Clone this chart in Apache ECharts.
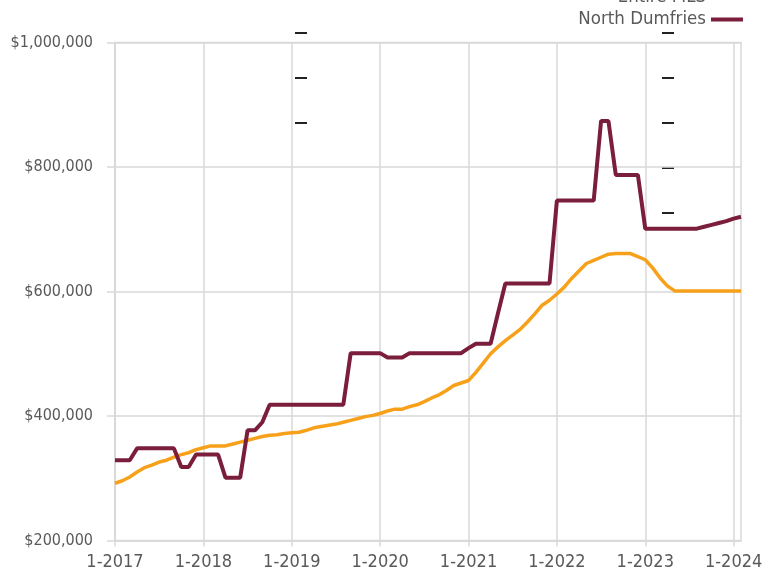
<!DOCTYPE html>
<html>
<head>
<meta charset="utf-8">
<script src="https://cdn.jsdelivr.net/npm/echarts@6/dist/echarts.min.js"></script>
<style>
html,body{margin:0;padding:0;background:#fff;}
#chart{width:766px;height:578px;}
</style>
</head>
<body>
<div id="chart"></div>
<script>
// Monthly categories (Jan 2017 - Feb 2024)
const months = [
  '1-2017','2-2017','3-2017','4-2017','5-2017','6-2017','7-2017','8-2017','9-2017','10-2017','11-2017','12-2017',
  '1-2018','2-2018','3-2018','4-2018','5-2018','6-2018','7-2018','8-2018','9-2018','10-2018','11-2018','12-2018',
  '1-2019','2-2019','3-2019','4-2019','5-2019','6-2019','7-2019','8-2019','9-2019','10-2019','11-2019','12-2019',
  '1-2020','2-2020','3-2020','4-2020','5-2020','6-2020','7-2020','8-2020','9-2020','10-2020','11-2020','12-2020',
  '1-2021','2-2021','3-2021','4-2021','5-2021','6-2021','7-2021','8-2021','9-2021','10-2021','11-2021','12-2021',
  '1-2022','2-2022','3-2022','4-2022','5-2022','6-2022','7-2022','8-2022','9-2022','10-2022','11-2022','12-2022',
  '1-2023','2-2023','3-2023','4-2023','5-2023','6-2023','7-2023','8-2023','9-2023','10-2023','11-2023','12-2023',
  '1-2024','2-2024'
];

const entireMLS = [
  292000,296000,302000,310000,317000,321000,326000,329000,334000,338000,341000,346000,
  349000,352000,352000,352000,355000,358000,361000,364000,367000,369000,370000,372000,
  373000,374000,377000,381000,383000,385000,387000,390000,393000,396000,399000,401000,
  404000,408000,411000,411000,415000,418000,423000,429000,434000,441000,449000,453000,
  457000,470000,485000,500000,511000,521000,530000,539000,551000,564000,578000,586000,
  596000,607000,621000,633000,645000,650000,655000,660000,661000,661000,661000,656000,
  651000,638000,622000,609000,601000,601000,601000,601000,601000,601000,601000,601000,
  601000,601000
];

const northDumfries = [
  329000,329000,329000,348000,348000,348000,348000,348000,348000,318000,318000,338000,
  338000,338000,338000,301000,301000,301000,377000,377000,390000,418000,418000,418000,
  418000,418000,418000,418000,418000,418000,418000,418000,501000,501000,501000,501000,
  501000,494000,494000,494000,501000,501000,501000,501000,501000,501000,501000,501000,
  509000,516000,516000,516000,565000,613000,613000,613000,613000,613000,613000,613000,
  746000,746000,746000,746000,746000,746000,874000,874000,787000,787000,787000,787000,
  701000,701000,701000,701000,701000,701000,701000,701000,704000,707000,710000,713000,
  717000,720000
];

const seriesNames = ['Entire MLS', 'North Dumfries'];
const yMin = 200000, yMax = 1000000, yStep = 200000;

const FONT = "'Liberation Sans Narrow','DejaVu Sans Condensed','Liberation Sans',sans-serif";
const GRID = '#d9d9d9';
const TXT = '#595959';

const chart = echarts.init(document.getElementById('chart'), null, {renderer: 'canvas'});
const yearTick = (i) => i % 12 === 0;

function dash(x, y) {
  return {type: 'rect', shape: {x: x, y: y, width: 12, height: 2}, style: {fill: '#222'}, silent: true};
}

chart.setOption({
  animation: false,
  backgroundColor: '#fff',
  grid: {left: 115, right: 25, top: 42.5, bottom: 37.5, show: true, borderColor: GRID, borderWidth: 1.5},
  legend: {
    data: seriesNames,
    orient: 'vertical',
    right: 23,
    top: -12,
    padding: 0,
    align: 'right',
    itemWidth: 32,
    itemHeight: 4,
    itemGap: 3,
    icon: 'rect',
    textStyle: {color: TXT, fontSize: 18.5, fontFamily: FONT}
  },
  xAxis: {
    type: 'category',
    data: months,
    boundaryGap: false,
    axisLine: {show: true, lineStyle: {color: GRID, width: 1.5}},
    axisTick: {show: true, interval: (i) => yearTick(i), length: 6, lineStyle: {color: GRID, width: 1.5}},
    axisLabel: {interval: (i) => yearTick(i), color: TXT, fontSize: 18, fontFamily: FONT, margin: 13},
    splitLine: {show: true, interval: (i) => yearTick(i), lineStyle: {color: GRID, width: 1.5}}
  },
  yAxis: {
    type: 'value',
    min: yMin,
    max: yMax,
    interval: yStep,
    axisLine: {show: true, lineStyle: {color: GRID, width: 1.5}},
    axisTick: {show: true, length: 8, lineStyle: {color: GRID, width: 1.5}},
    axisLabel: {
      color: TXT, fontSize: 16, fontFamily: FONT, margin: 22,
      formatter: (v) => '$' + v.toLocaleString('en-US')
    },
    splitLine: {show: true, lineStyle: {color: GRID, width: 1.5}}
  },
  series: [
    {
      name: seriesNames[0], type: 'line', data: entireMLS,
      showSymbol: false, symbol: 'none',
      lineStyle: {color: '#F7A11A', width: 3.5},
      itemStyle: {color: '#F7A11A'}
    },
    {
      name: seriesNames[1], type: 'line', data: northDumfries,
      showSymbol: false, symbol: 'none',
      lineStyle: {color: '#7A1E3B', width: 4},
      itemStyle: {color: '#7A1E3B'}
    }
  ],
  graphic: [
    dash(295, 32), dash(295, 77), dash(295, 122),
    dash(662, 32), dash(662, 77), dash(662, 122), dash(662, 167), dash(662, 212)
  ]
});
</script>
</body>
</html>
